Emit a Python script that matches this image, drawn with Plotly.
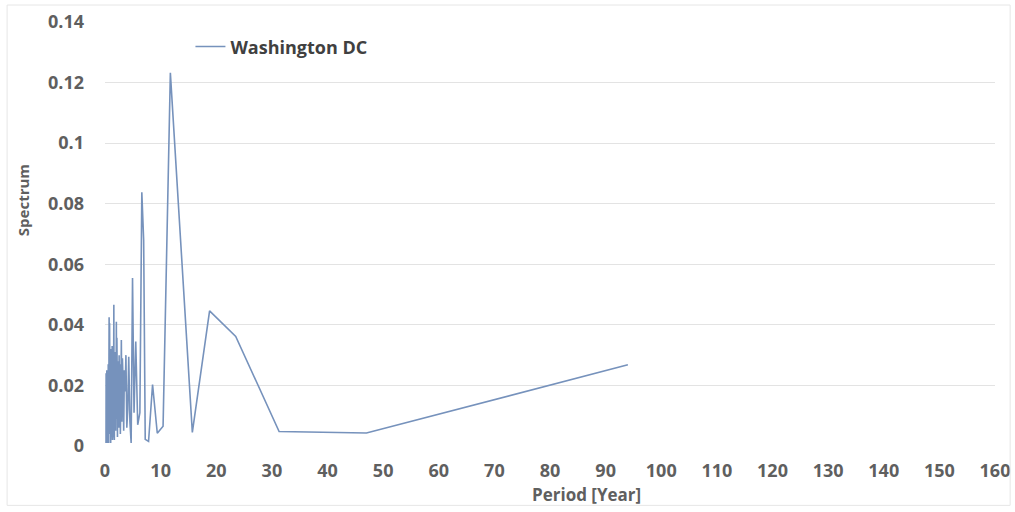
import plotly.graph_objects as go

series_name = "Washington DC"

period_years = [
    94.0, 47.0, 31.3, 23.5, 18.8, 15.7, 11.75, 10.44, 9.4, 8.55, 7.83, 7.23, 6.95, 6.62,
    6.27, 5.88, 5.53, 5.22, 4.95, 4.70, 4.48, 4.27, 4.09, 3.92, 3.76, 3.62, 3.48, 3.36,
    3.24, 3.13, 3.03, 2.94, 2.85, 2.76, 2.69, 2.61, 2.54, 2.47, 2.41, 2.35, 2.29, 2.24,
    2.19, 2.14, 2.09, 2.04, 2.00, 1.96, 1.92, 1.88, 1.84, 1.81, 1.77, 1.74, 1.71, 1.68,
    1.65, 1.62, 1.59, 1.57, 1.54, 1.52, 1.49, 1.47, 1.45, 1.42, 1.40, 1.38, 1.36, 1.34,
    1.32, 1.30, 1.28, 1.26, 1.24, 1.22, 1.20, 1.18, 1.16, 1.14, 1.12, 1.10, 1.08, 1.06,
    1.04, 1.02, 1.00, 0.98, 0.96, 0.94, 0.92, 0.90, 0.88, 0.86, 0.84, 0.82, 0.80, 0.78,
    0.76, 0.74, 0.72, 0.70, 0.68, 0.66, 0.64, 0.62, 0.60, 0.58, 0.56, 0.54, 0.52, 0.50,
    0.48, 0.46, 0.44, 0.42, 0.40, 0.38, 0.36, 0.34, 0.32, 0.30, 0.28, 0.26, 0.24, 0.22,
    0.20, 0.18,
]

spectrum = [
    0.0268, 0.0043, 0.0048, 0.0362, 0.0446, 0.0045, 0.1232, 0.0065, 0.0042, 0.0203, 0.0015, 0.0022, 0.0680, 0.0838,
    0.0110, 0.0070, 0.0345, 0.0110, 0.0555, 0.0010, 0.0080, 0.0295, 0.0120, 0.0060, 0.0300, 0.0180, 0.0250, 0.0050,
    0.0220, 0.0290, 0.0080, 0.0350, 0.0150, 0.0040, 0.0270, 0.0120, 0.0300, 0.0060, 0.0200, 0.0100, 0.0280, 0.0030,
    0.0240, 0.0357, 0.0090, 0.0410, 0.0150, 0.0300, 0.0050, 0.0260, 0.0310, 0.0080, 0.0290, 0.0120, 0.0300, 0.0020,
    0.0250, 0.0180, 0.0466, 0.0100, 0.0310, 0.0060, 0.0280, 0.0150, 0.0300, 0.0040, 0.0270, 0.0120, 0.0310, 0.0020,
    0.0290, 0.0180, 0.0330, 0.0050, 0.0260, 0.0300, 0.0090, 0.0310, 0.0030, 0.0280, 0.0150, 0.0320, 0.0060, 0.0290,
    0.0200, 0.0010, 0.0310, 0.0110, 0.0270, 0.0040, 0.0300, 0.0220, 0.0080, 0.0330, 0.0050, 0.0406, 0.0120, 0.0250,
    0.0020, 0.0425, 0.0090, 0.0280, 0.0150, 0.0010, 0.0240, 0.0190, 0.0050, 0.0270, 0.0030, 0.0220, 0.0100, 0.0250,
    0.0020, 0.0200, 0.0150, 0.0010, 0.0230, 0.0080, 0.0180, 0.0030, 0.0250, 0.0060, 0.0200, 0.0020, 0.0190, 0.0050,
    0.0240, 0.0010,
]

x_ticks = list(range(0, 161, 10))
y_ticks = [0, 0.02, 0.04, 0.06, 0.08, 0.1, 0.12, 0.14]
y_tick_text = ["0", "0.02", "0.04", "0.06", "0.08", "0.1", "0.12", "0.14"]
x_title = "Period [Year]"
y_title = "Spectrum"

FONT = "Open Sans, sans-serif"
GREY = "#5f5f5f"

fig = go.Figure()
fig.add_trace(go.Scatter(
    x=period_years, y=spectrum, mode="lines", name=series_name,
    line=dict(color="rgb(118,146,188)", width=1.6),
))

fig.update_layout(
    width=1015, height=512,
    paper_bgcolor="white", plot_bgcolor="white",
    margin=dict(l=105, r=20, t=22, b=66),
    showlegend=True,
    legend=dict(x=0.096, y=0.985, xanchor="left", yanchor="top",
                bgcolor="rgba(0,0,0,0)",
                font=dict(family=FONT, size=18, color="#404040", weight="bold")),
    xaxis=dict(
        range=[0, 160], tickvals=x_ticks, showgrid=False, zeroline=False,
        showline=False, ticks="", ticklabelstandoff=12, automargin=False,
        tickfont=dict(family=FONT, size=18, color=GREY, weight="bold"),
    ),
    yaxis=dict(
        range=[0, 0.14], tickvals=y_ticks, ticktext=y_tick_text,
        showgrid=True, gridcolor="#e3e3e3", gridwidth=1, zeroline=False,
        showline=False, ticks="", ticklabelstandoff=20, automargin=False,
        tickfont=dict(family=FONT, size=18, color=GREY, weight="bold"),
    ),
    annotations=[
        dict(text=x_title, xref="paper", yref="paper", x=0.541, y=-0.115,
             xanchor="center", yanchor="middle", showarrow=False,
             font=dict(family=FONT, size=17, color=GREY, weight="bold")),
        dict(text=y_title, xref="paper", yref="paper", x=-0.092, y=0.58,
             xanchor="center", yanchor="middle", showarrow=False, textangle=-90,
             font=dict(family=FONT, size=15, color=GREY, weight="bold")),
    ],
    shapes=[dict(type="rect", xref="paper", yref="paper",
                 x0=-0.11, x1=1.017, y0=-0.14, y1=1.04,
                 line=dict(color="#e6e6e6", width=1))],
)

fig.write_html(
    "out.html",
    config={"displayModeBar": False},
    post_script="document.body.style.margin='0';document.body.style.overflow='hidden';",
)
